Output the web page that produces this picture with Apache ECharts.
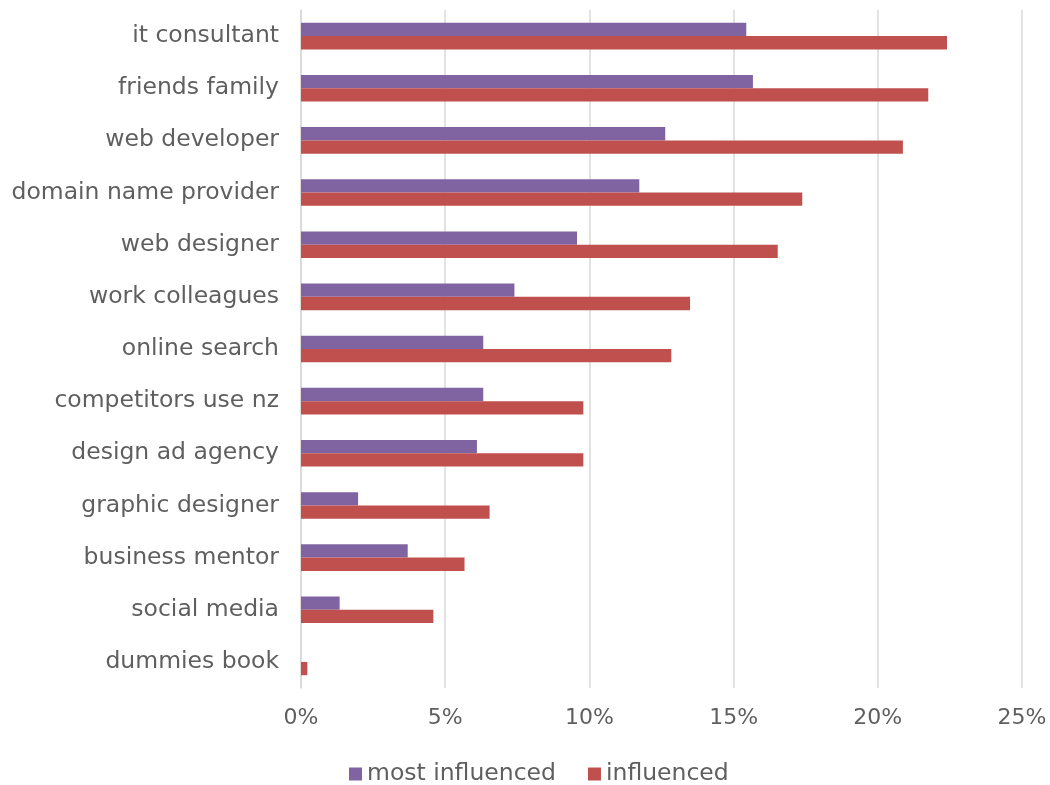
<!DOCTYPE html>
<html>
<head>
<meta charset="utf-8">
<script src="https://cdn.jsdelivr.net/npm/echarts@6/dist/echarts.min.js"></script>
<style>
  html, body { margin: 0; padding: 0; background: #ffffff; }
  #chart { width: 1050px; height: 785px; }
</style>
</head>
<body>
<div id="chart"></div>
<script>
// Sources that influenced the choice, share of respondents (%)
const categories = [
  'it consultant', 'friends family', 'web developer', 'domain name provider',
  'web designer', 'work colleagues', 'online search', 'competitors use nz',
  'design ad agency', 'graphic designer', 'business mentor', 'social media',
  'dummies book'
];
const mostInfluenced = [15.44, 15.67, 12.63, 11.73, 9.57, 7.40, 6.32, 6.32, 6.10, 1.98, 3.70, 1.34, 0];
const influenced     = [22.40, 21.75, 20.87, 17.38, 16.53, 13.49, 12.84, 9.79, 9.79, 6.54, 5.67, 4.59, 0.22];
const xTicks = [0, 5, 10, 15, 20, 25];

const FONT = '"DejaVu Sans", "Open Sans", sans-serif';
const TEXT = '#5f5f5f';
const GRID = '#d9d9d9';

const chart = echarts.init(document.getElementById('chart'), null, { renderer: 'canvas' });
chart.setOption({
  animation: false,
  grid: { left: 301, right: 28, top: 10, bottom: 97, containLabel: false },
  legend: {
    top: 757,
    left: 344,
    itemWidth: 13,
    itemHeight: 13,
    itemGap: 32,
    icon: 'rect',
    textStyle: { color: TEXT, fontSize: 23.5, fontFamily: FONT },
    data: ['most influenced', 'influenced']
  },
  xAxis: {
    type: 'value',
    min: xTicks[0],
    max: xTicks[xTicks.length - 1],
    interval: 5,
    axisLine: { show: false },
    axisTick: { show: false },
    splitLine: { show: true, lineStyle: { color: GRID, width: 1.5 } },
    axisLabel: {
      color: TEXT, fontSize: 22, fontFamily: FONT, margin: 19,
      formatter: v => v + '%'
    }
  },
  yAxis: {
    type: 'category',
    inverse: true,
    data: categories,
    axisLine: { show: true, lineStyle: { color: GRID, width: 1.5 } },
    axisTick: { show: false },
    axisLabel: { color: TEXT, fontSize: 23.5, fontFamily: FONT, margin: 22 }
  },
  series: [
    {
      name: 'most influenced',
      type: 'bar',
      data: mostInfluenced,
      barWidth: 13.3,
      barGap: '0%',
      itemStyle: { color: '#8064A2' }
    },
    {
      name: 'influenced',
      type: 'bar',
      data: influenced,
      barWidth: 13.3,
      barGap: '0%',
      itemStyle: { color: '#C0504D' }
    }
  ]
});
</script>
</body>
</html>
